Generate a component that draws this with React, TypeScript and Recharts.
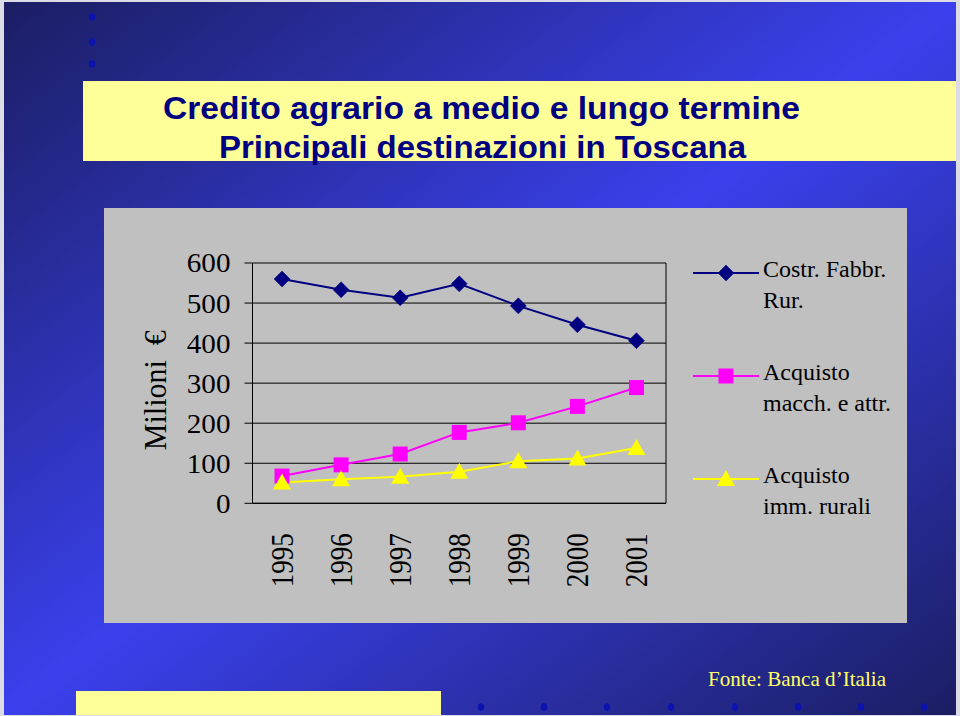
import React from 'react';
import { LineChart, Line, XAxis, YAxis, CartesianGrid, Legend, ReferenceLine } from 'recharts';

// ---- data ----
const years = ['1995', '1996', '1997', '1998', '1999', '2000', '2001'];
const costrFabbrRur = [560, 533, 513, 548, 493, 446, 406];
const acquistoMacch = [68, 96, 123, 177, 201, 242, 289];
const acquistoImm = [52, 60, 66, 79, 105, 112, 138];
const yTicks = [0, 100, 200, 300, 400, 500, 600];
const seriesNames = ['Costr. Fabbr. Rur.', 'Acquisto macch. e attr.', 'Acquisto imm. rurali'];
const legendLabels = [
  ['Costr. Fabbr.', 'Rur.'],
  ['Acquisto', 'macch. e attr.'],
  ['Acquisto', 'imm. rurali'],
];
const titleLines = ['Credito agrario a medio e lungo termine', 'Principali destinazioni in Toscana'];
const yAxisTitle = 'Milioni  €';
const sourceText = 'Fonte: Banca d\u2019Italia';

const SERIF = '"Liberation Serif", "Times New Roman", serif';
const SANS = '"Liberation Sans", Arial, sans-serif';

const series = [
  { key: 'costr', name: seriesNames[0], color: '#000080', marker: 'diamond', values: costrFabbrRur, legend: legendLabels[0] },
  { key: 'macch', name: seriesNames[1], color: '#FF00FF', marker: 'square', values: acquistoMacch, legend: legendLabels[1] },
  { key: 'imm', name: seriesNames[2], color: '#FFFF00', marker: 'triangle', values: acquistoImm, legend: legendLabels[2] },
];

const data = years.map((year, i) => {
  const row: any = { i, year };
  series.forEach((s) => { row[s.key] = s.values[i]; });
  return row;
});

const n = years.length;
const boundaryTicks = years.map((_, i) => i - 0.5).concat([n - 0.5]);
const centerTicks = years.map((_, i) => i);

function marker(type: string, cx: number, cy: number, color: string, key?: string) {
  if (type === 'diamond') {
    return <path key={key} d={`M${cx},${cy - 8}L${cx + 8},${cy}L${cx},${cy + 8}L${cx - 8},${cy}Z`} fill={color} stroke={color} strokeWidth={0.5} />;
  }
  if (type === 'square') {
    return <rect key={key} x={cx - 7.5} y={cy - 7.5} width={15} height={15} fill={color} />;
  }
  return <path key={key} d={`M${cx},${cy - 9}L${cx + 9},${cy + 7}L${cx - 9},${cy + 7}Z`} fill={color} />;
}

const makeDot = (type: string, color: string) => (p: any) => {
  if (p.cx == null || p.cy == null) return <g key={`e-${p.index}`} />;
  return marker(type, p.cx, p.cy, color, `${type}-${p.index}`);
};

const ValueTick = (props: any) => {
  const { x, y, payload } = props;
  return (
    <text x={0} y={0} dy="0.35em" transform={`translate(${x}, ${y}) scale(1.08, 1)`} textAnchor="end" fontFamily={SERIF} fontSize={27} fill="#000">
      {payload.value}
    </text>
  );
};

const YearTick = (props: any) => {
  const { x, y, payload } = props;
  const label = years[payload.value];
  if (label == null) return <g />;
  const ty = y + 20;
  return (
    <text x={0} y={0} dy="0.35em" transform={`translate(${x}, ${ty}) rotate(-90) scale(1, 1.15)`} textAnchor="end" fontFamily={SERIF} fontSize={27} fill="#000">
      {label}
    </text>
  );
};

const AxisTitle = (props: any) => {
  const vb = props.viewBox || { x: 0, y: 0, width: 0, height: 0 };
  const cx = vb.x + 51;
  const cy = vb.y + vb.height / 2 + 7;
  return (
    <text x={0} y={0} dy="0.35em" transform={`translate(${cx}, ${cy}) rotate(-90) scale(1, 1.08)`} textAnchor="middle" fontFamily={SERIF} fontSize={30} fill="#000" style={{ whiteSpace: 'pre' }}>
      {yAxisTitle}
    </text>
  );
};

const LegendContent = (props: any) => {
  const payload = (props.payload || []).slice();
  const order = (e: any) => {
    const k = series.findIndex((q) => q.name === e.value);
    return k < 0 ? 99 : k;
  };
  payload.sort((a: any, b: any) => order(a) - order(b));
  return (
    <svg width={220} height={300} style={{ overflow: 'visible' }}>
      {payload.map((entry: any, idx: number) => {
        const s = series.find((q) => q.name === entry.value) || series[idx];
        const cy = 25 + idx * 103;
        return (
          <g key={s.key}>
            <line x1={4} x2={70} y1={cy} y2={cy} stroke={s.color} strokeWidth={2} />
            {marker(s.marker, 37, cy, s.color)}
            {s.legend.map((t, k) => (
              <text key={k} x={74} y={cy + 4 + k * 31} fontFamily={SERIF} fontSize={24} fill="#000">
                {t}
              </text>
            ))}
          </g>
        );
      })}
    </svg>
  );
};

const topDots = [17, 42, 64];
const bottomDots = [481, 544, 607, 671, 735, 798, 861, 924];

export default function App() {
  return (
    <div style={{ position: 'absolute', left: 0, top: 0, width: 960, height: 716, background: '#dcdce6', overflow: 'hidden' }}>
      <div
        style={{
          position: 'absolute', left: 4, top: 2, width: 952, height: 713,
          background: 'linear-gradient(to bottom right, #1b1e62 0%, #3a40ec 50%, #1b1e62 100%)',
        }}
      />
      <svg width={960} height={716} style={{ position: 'absolute', left: 0, top: 0 }}>
        {topDots.map((y) => <ellipse key={`t${y}`} cx={92} cy={y} rx={3.2} ry={3.8} fill="#0a12b0" />)}
        {bottomDots.map((x) => <ellipse key={`b${x}`} cx={x} cy={707} rx={3.2} ry={3.8} fill="#0a12b0" />)}
        <rect x={83} y={81} width={873} height={80} fill="#FFFF99" />
        <text x={163} y={119} fontFamily={SANS} fontWeight="bold" fontSize={31} fill="#000080" textLength={637} lengthAdjust="spacingAndGlyphs">
          {titleLines[0]}
        </text>
        <text x={219} y={158} fontFamily={SANS} fontWeight="bold" fontSize={31} fill="#000080" textLength={527} lengthAdjust="spacingAndGlyphs">
          {titleLines[1]}
        </text>
        <rect x={76} y={691} width={365} height={24} fill="#FFFF99" />
        <text x={708} y={686} fontFamily={SERIF} fontSize={21} fill="#FFFF66" textLength={178} lengthAdjust="spacingAndGlyphs">
          {sourceText}
        </text>
      </svg>
      <div style={{ position: 'absolute', left: 104, top: 208, width: 803, height: 415, background: '#C0C0C0' }}>
        <LineChart width={803} height={415} data={data} margin={{ top: 55, right: 241, bottom: 0, left: 0 }}>
          <CartesianGrid vertical={false} stroke="#000" strokeWidth={1} xAxisId="a_marks" />
          <XAxis
            xAxisId="z_labels" dataKey="i" type="number" domain={[-0.5, n - 0.5]} ticks={centerTicks}
            allowDataOverflow interval={0} tickLine={false} axisLine={false} tickSize={0} tickMargin={0}
            height={109.7} tick={YearTick}
          />
          <XAxis
            xAxisId="a_marks" dataKey="i" type="number" domain={[-0.5, n - 0.5]} ticks={boundaryTicks}
            allowDataOverflow interval={0} tick={false} tickLine={{ stroke: '#000' }} tickSize={9}
            axisLine={{ stroke: '#000' }} height={10}
          />
          <YAxis
            type="number" domain={[0, 600]} ticks={yTicks} allowDataOverflow interval={0} width={148.5}
            tickSize={8} tickMargin={14} tickLine={{ stroke: '#000' }} axisLine={{ stroke: '#000' }}
            tick={ValueTick} label={AxisTitle}
          />
          <ReferenceLine xAxisId="a_marks" x={n - 0.5} stroke="#000" />
          {series.map((s) => (
            <Line
              key={s.key} xAxisId="a_marks" type="linear" dataKey={s.key} name={s.name} stroke={s.color}
              strokeWidth={2} dot={makeDot(s.marker, s.color)} activeDot={false} isAnimationActive={false}
            />
          ))}
          <Legend
            layout="vertical" align="center" verticalAlign="middle" content={LegendContent}
            wrapperStyle={{ position: 'absolute', left: 585, top: 40, width: 220, height: 300 }}
          />
        </LineChart>
      </div>
    </div>
  );
}
